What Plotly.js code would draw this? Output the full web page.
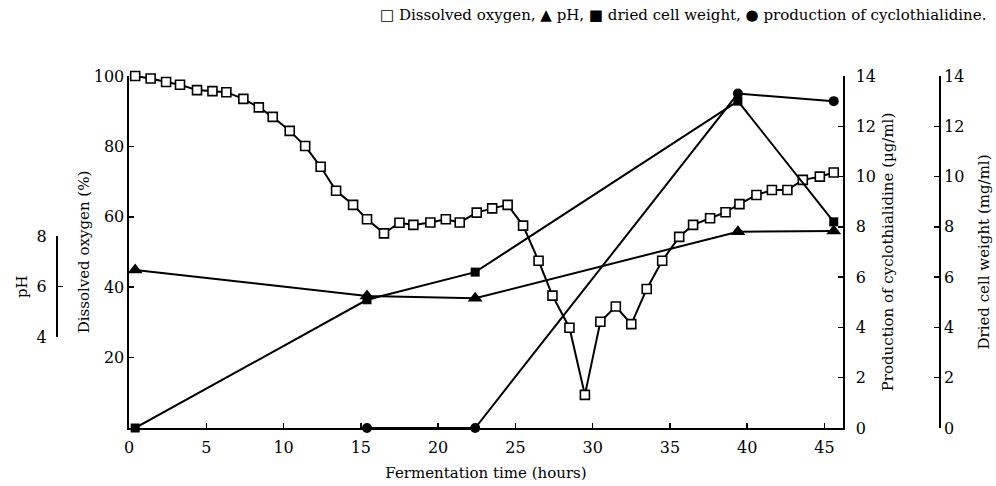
<!DOCTYPE html>
<html>
<head>
<meta charset="utf-8">
<script src="https://cdn.plot.ly/plotly-3.0.1.min.js"></script>
<style>html,body{margin:0;padding:0;background:#fff;}#chart{width:996px;height:486px;}</style>
</head>
<body>
<div id="chart"></div>
<script>
// Dissolved oxygen (%)
const doTime = [0.4, 1.4, 2.4, 3.3, 4.4, 5.4, 6.3, 7.4, 8.4, 9.3, 10.4, 11.4, 12.4, 13.4, 14.5, 15.4, 16.5, 17.5, 18.4, 19.5, 20.5, 21.4, 22.5, 23.5, 24.5, 25.5, 26.5, 27.4, 28.5, 29.5, 30.5, 31.5, 32.5, 33.5, 34.5, 35.6, 36.5, 37.6, 38.6, 39.5, 40.6, 41.6, 42.6, 43.6, 44.7, 45.6];
const doValues = [100, 99.3, 98.3, 97.5, 96.0, 95.7, 95.4, 93.5, 91.1, 88.4, 84.4, 80.1, 74.2, 67.4, 63.4, 59.3, 55.3, 58.3, 57.7, 58.4, 59.3, 58.4, 61.2, 62.4, 63.4, 57.5, 47.5, 37.6, 28.5, 9.4, 30.2, 34.5, 29.5, 39.5, 47.5, 54.3, 57.7, 59.6, 61.3, 63.6, 66.2, 67.6, 67.6, 70.5, 71.4, 72.6];
// pH
const phTime = [0.4, 15.4, 22.4, 39.4, 45.6];
const phValues = [6.66, 5.63, 5.54, 8.17, 8.2];
// Dried cell weight (mg/ml)
const dcwTime = [0.4, 15.4, 22.4, 39.4, 45.6];
const dcwValues = [0, 5.1, 6.2, 13.0, 8.2];
// Production of cyclothialidine (µg/ml)
const cycloTime = [15.4, 22.4, 39.4, 45.6];
const cycloValues = [0, 0, 13.3, 13.0];
// Tick labels
const xTicks = [0, 5, 10, 15, 20, 25, 30, 35, 40, 45];
const doTicks = [20, 40, 60, 80, 100];
const rightTicks = [0, 2, 4, 6, 8, 10, 12, 14];
const phTicks = [4, 6, 8];

const legendText = '\u25A1 Dissolved oxygen, \u25B2 pH, \u25A0 dried cell weight, \u25CF production of cyclothialidine.';

const serif = 'DejaVu Serif';
const lineStyle = {color: '#000', width: 2};

const traces = [
  {x: phTime, y: phValues, yaxis: 'y4', mode: 'lines+markers', line: lineStyle,
   marker: {symbol: 'triangle-up', size: 13, color: '#000'}, cliponaxis: false},
  {x: dcwTime, y: dcwValues, yaxis: 'y3', mode: 'lines+markers', line: lineStyle,
   marker: {symbol: 'square', size: 9, color: '#000'}, cliponaxis: false},
  {x: cycloTime, y: cycloValues, yaxis: 'y2', mode: 'lines+markers', line: lineStyle,
   marker: {symbol: 'circle', size: 10, color: '#000'}, cliponaxis: false},
  {x: doTime, y: doValues, yaxis: 'y', mode: 'lines+markers', line: lineStyle,
   marker: {symbol: 'square', size: 9, color: '#fff', line: {color: '#000', width: 1.6}}, cliponaxis: false},
  // carrier for the short pH scale axis (no marks)
  {x: [null], y: [null], yaxis: 'y5', mode: 'lines', hoverinfo: 'skip', showlegend: false}
];

const axisBase = {
  showline: true, linecolor: '#000', linewidth: 1.5,
  ticks: 'inside', ticklen: 5, tickwidth: 1.5, tickcolor: '#000',
  showgrid: false, zeroline: false,
  tickfont: {family: serif, size: 16, color: '#000'}
};

const titleFont = {family: serif, size: 15, color: '#000'};

const layout = {
  width: 996, height: 486,
  margin: {l: 40, r: 40, t: 76, b: 58},
  paper_bgcolor: '#fff', plot_bgcolor: 'rgba(0,0,0,0)',
  showlegend: false,
  font: {family: serif, size: 15, color: '#000'},
  xaxis: Object.assign({}, axisBase, {
    domain: [0.09716, 0.87664], range: [0, 46.2], tickvals: xTicks, ticklabelstandoff: 4,
    title: {text: 'Fermentation time (hours)', font: titleFont, standoff: 12}
  }),
  yaxis: Object.assign({}, axisBase, {
    range: [0, 100], tickvals: doTicks,
    title: {text: 'Dissolved oxygen (%)', font: titleFont, standoff: 0}
  }),
  yaxis2: Object.assign({}, axisBase, {
    overlaying: 'y', side: 'right', anchor: 'x', range: [0, 14], tickvals: rightTicks, ticklabelstandoff: 8,
    title: {text: 'Production of cyclothialidine (\u00B5g/ml)', font: titleFont, standoff: 7}
  }),
  yaxis3: Object.assign({}, axisBase, {
    overlaying: 'y', side: 'right', anchor: 'free', position: 0.9818, range: [0, 14], tickvals: rightTicks,
    title: {text: 'Dried cell weight (mg/ml)', font: titleFont, standoff: 15}
  }),
  yaxis4: {overlaying: 'y', range: [0.42, 14.32], visible: false},
  yaxis5: Object.assign({}, axisBase, {
    anchor: 'free', position: 0.01747, side: 'left', domain: [0.2577, 0.5455],
    range: [4, 8], tickvals: phTicks, ticklabelstandoff: 6,
    title: {text: 'pH', font: titleFont, standoff: 4}
  }),
  annotations: [{
    xref: 'paper', yref: 'paper', x: 1.0349, y: 1.173, xanchor: 'right', yanchor: 'middle',
    text: legendText, showarrow: false, font: {family: serif, size: 15, color: '#000'}
  }]
};

Plotly.newPlot('chart', traces, layout, {staticPlot: true, displayModeBar: false});
</script>
</body>
</html>
